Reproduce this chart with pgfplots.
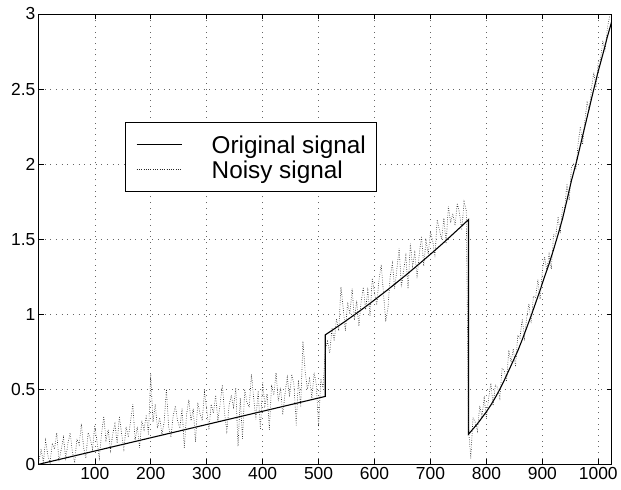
\documentclass[border=0pt]{standalone}
\usepackage{pgfplots}
\pgfplotsset{compat=1.18}
\usepackage{fontspec}
\setmainfont{Liberation Sans}
\begin{document}
\begin{tikzpicture}
\begin{axis}[
  scale only axis, width=575bp, height=452bp,
  xmin=0, xmax=1024, ymin=0, ymax=3,
  xtick={100,200,300,400,500,600,700,800,900,1000},
  ytick={0,0.5,1,1.5,2,2.5,3},
  yticklabels={0,0.5,1,1.5,2,2.5,3},
  tick align=inside, tick pos=both,
  major tick length=5bp,
  grid=major,
  grid style={black!60, line width=0.6bp, dash pattern=on 0.9bp off 4.8bp},
  axis line style={line width=0.8bp, black},
  every tick/.style={line width=0.6bp, black},
  ticklabel style={font=\fontsize{17.5bp}{20bp}\selectfont},
  /pgf/number format/assume math mode=true,
  /pgf/number format/1000 sep={},
  scaled ticks=false,
  legend cell align=left,
  legend image code/.code={\pgfpathrectangle{\pgfpoint{0bp}{-0.5bp}}{\pgfpoint{45.6bp}{1bp}}\pgfusepath{use as bounding box}\draw[#1] (0bp,0bp) -- (45.6bp,0bp);},
  legend style={at={(0.151,0.761)}, anchor=north west,
    draw=black, line width=0.8bp, fill=white,
    inner xsep=11bp, inner ysep=10bp,
    column sep=29.7bp, row sep=0pt,
    font=\fontsize{24.4bp}{24.7bp}\selectfont,
    nodes={inner sep=0pt, text height=22bp, text depth=2.7bp}},
]
\addplot[black, line width=1.1bp] coordinates {
(0,0) (512,0.452) (512,0.862) (528,0.902) (544,0.943) (560,0.985) (576,1.028)
(592,1.072) (608,1.118) (624,1.164) (640,1.212) (656,1.260) (672,1.310)
(688,1.361) (704,1.412) (720,1.465) (736,1.519) (752,1.574) (768,1.63)
(768,0.20) (776,0.235) (784,0.27) (792,0.31) (800,0.35) (808,0.395) (816,0.445)
(824,0.50) (832,0.56) (840,0.625) (848,0.69) (856,0.755) (864,0.83) (872,0.91)
(880,0.99) (888,1.075) (896,1.16) (904,1.25) (912,1.335) (920,1.43) (928,1.53)
(936,1.635) (944,1.76) (952,1.89) (960,2.0) (968,2.125) (976,2.25) (984,2.375)
(992,2.50) (1000,2.62) (1008,2.73) (1016,2.845) (1024,2.95)
};
\addlegendentry{Original signal}
\addplot[black!85, line width=0.6bp, dash pattern=on 0.7bp off 1.6bp] coordinates {
(0,0.02) (4,0.10) (8,0.01) (12,0.16) (16,0.06) (20,0.01) (24,0.14) (28,0.10)
(32,0.21) (36,0.02) (40,0.10) (44,0.18) (48,0.04) (52,0.14) (56,0.21) (60,0.08)
(64,0.01) (68,0.17) (72,0.13) (76,0.27) (80,0.11) (84,0.04) (88,0.21) (92,0.17)
(96,0.10) (100,0.26) (104,0.15) (108,0.04) (112,0.20) (116,0.32) (120,0.16) (124,0.23)
(128,0.09) (132,0.20) (136,0.27) (140,0.14) (144,0.32) (148,0.20) (152,0.10) (156,0.25)
(160,0.18) (164,0.29) (168,0.40) (172,0.16) (176,0.25) (180,0.11) (184,0.29) (188,0.23)
(192,0.33) (196,0.20) (200,0.60) (204,0.28) (208,0.40) (212,0.24) (216,0.31) (220,0.20)
(224,0.28) (228,0.50) (232,0.25) (236,0.18) (240,0.32) (244,0.39) (248,0.29) (252,0.24)
(256,0.37) (260,0.11) (264,0.33) (268,0.43) (272,0.29) (276,0.37) (280,0.15) (284,0.41)
(288,0.34) (292,0.29) (296,0.48) (300,0.37) (304,0.23) (308,0.40) (312,0.34) (316,0.46)
(320,0.29) (324,0.40) (328,0.53) (332,0.34) (336,0.22) (340,0.39) (344,0.46) (348,0.38)
(352,0.51) (356,0.12) (360,0.44) (364,0.17) (368,0.50) (372,0.41) (376,0.38) (380,0.60)
(384,0.44) (388,0.30) (392,0.49) (396,0.23) (400,0.55) (404,0.39) (408,0.47) (412,0.23)
(416,0.53) (420,0.46) (424,0.61) (428,0.42) (432,0.51) (436,0.33) (440,0.47) (444,0.58)
(448,0.45) (452,0.60) (456,0.53) (460,0.26) (464,0.56) (468,0.38) (472,0.82) (476,0.62)
(480,0.50) (484,0.57) (488,0.44) (492,0.61) (496,0.53) (500,0.25) (504,0.57) (508,0.51)
(512,0.76) (516,0.82) (520,0.74) (524,0.91) (528,0.82) (532,0.97) (536,0.89) (540,1.18)
(544,1.04) (548,0.89) (552,1.08) (556,1.00) (560,1.17) (564,0.96) (568,1.09) (572,0.92)
(576,1.08) (580,1.18) (584,1.03) (588,1.16) (592,0.99) (596,1.24) (600,1.14) (604,1.06)
(608,1.23) (612,1.33) (616,1.14) (620,0.95) (624,1.04) (628,1.25) (632,1.34) (636,1.17)
(640,1.30) (644,1.44) (648,1.18) (652,1.29) (656,1.39) (660,1.17) (664,1.47) (668,1.32)
(672,1.41) (676,1.24) (680,1.40) (684,1.52) (688,1.32) (692,1.49) (696,1.40) (700,1.55)
(704,1.49) (708,1.38) (712,1.63) (716,1.56) (720,1.50) (724,1.64) (728,1.47) (732,1.72)
(736,1.61) (740,1.67) (744,1.59) (748,1.74) (752,1.67) (756,1.56) (760,1.75) (764,1.69)
(768,0.25) (772,0.04) (776,0.31) (780,0.28) (784,0.22) (788,0.39) (792,0.32) (796,0.44)
(800,0.31) (804,0.44) (808,0.54) (812,0.39) (816,0.53) (820,0.51) (824,0.44) (828,0.64)
(832,0.62) (836,0.55) (840,0.76) (844,0.68) (848,0.77) (852,0.65) (856,0.86) (860,0.84)
(864,0.97) (868,0.84) (872,0.98) (876,1.07) (880,0.94) (884,1.12) (888,1.11) (892,1.23)
(896,1.10) (900,1.29) (904,1.38) (908,1.29) (912,1.40) (916,1.30) (920,1.53) (924,1.52)
(928,1.65) (932,1.54) (936,1.71) (940,1.71) (944,1.87) (948,1.76) (952,1.98) (956,2.00)
(960,1.97) (964,2.14) (968,2.25) (972,2.13) (976,2.29) (980,2.41) (984,2.36) (988,2.51)
(992,2.61) (996,2.51) (1000,2.68) (1004,2.70) (1008,2.82) (1012,2.75) (1016,2.90) (1020,2.98)
(1024,2.98)
};
\addlegendentry{Noisy signal}
\end{axis}
\path ([shift={(-39bp,-25bp)}]current axis.south west) rectangle ([shift={(7bp,14bp)}]current axis.north east);
\end{tikzpicture}
\end{document}
